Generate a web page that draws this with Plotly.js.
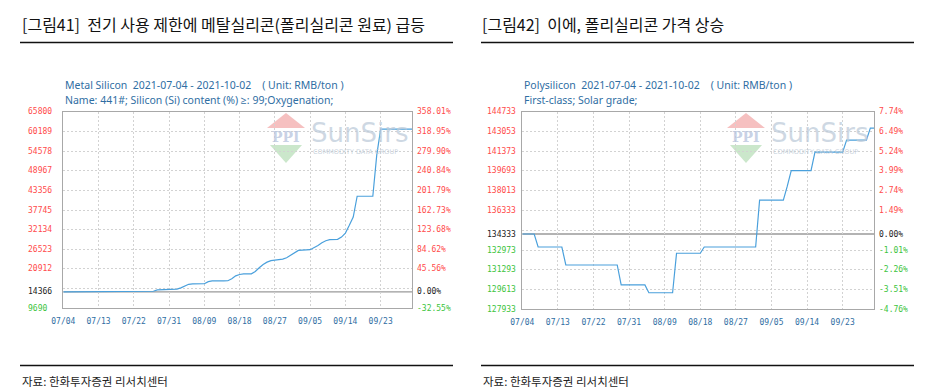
<!DOCTYPE html>
<html><head><meta charset="utf-8">
<script src="https://cdn.plot.ly/plotly-3.0.1.min.js"></script>
<style>html,body{margin:0;padding:0;background:#fff;} #chart{width:949px;height:390px;}</style>
</head><body><div id="chart"></div>
<script>
// ---------- Data: Metal Silicon (RMB/ton) ----------
const msDates = ['2021-07-04','2021-07-06','2021-07-07','2021-07-22','2021-07-23','2021-07-27','2021-07-28','2021-07-31',
  '2021-08-01','2021-08-02','2021-08-03','2021-08-04','2021-08-05','2021-08-06','2021-08-09','2021-08-10','2021-08-11',
  '2021-08-14','2021-08-15','2021-08-16','2021-08-17','2021-08-18','2021-08-19','2021-08-21','2021-08-22','2021-08-23',
  '2021-08-24','2021-08-25','2021-08-26','2021-08-27','2021-08-29','2021-08-30','2021-08-31','2021-09-01','2021-09-02',
  '2021-09-05','2021-09-06','2021-09-07','2021-09-08','2021-09-09','2021-09-10','2021-09-12','2021-09-13','2021-09-14',
  '2021-09-15','2021-09-16','2021-09-17','2021-09-21','2021-09-22','2021-09-23','2021-10-01'];
const msPrices = [14366,14366,14450,14450,14560,14560,14960,14960,
  15150,15150,15530,16100,16540,16680,16700,17300,17530,
  17530,17550,18100,18960,19340,19540,19540,20200,21250,
  22200,22860,23290,23430,23720,24120,24860,25640,26210,
  26410,26980,27640,28410,28980,29270,29370,30020,31160,
  33370,35740,41670,41670,53400,60800,60800];
const msBase = 14366;
const msLabelVals = [9690,14366,20912,26523,32134,37745,43356,48967,54578,60189,65800];
const msPctLabels = ['-32.55%','0.00%','45.56%','84.62%','123.68%','162.73%','201.79%','240.84%','279.90%','318.95%','358.01%'];
const msGridVals = [15301,20912,26523,32134,37745,43356,48967,54578,60189];
const msRange = [9690, 65800];

// ---------- Data: Polysilicon (RMB/ton) ----------
const psDates = ['2021-07-04','2021-07-07','2021-07-08','2021-07-14','2021-07-15','2021-07-28','2021-07-29','2021-08-04',
  '2021-08-05','2021-08-11','2021-08-12','2021-08-18','2021-08-19','2021-09-01','2021-09-02','2021-09-08','2021-09-09',
  '2021-09-10','2021-09-15','2021-09-16','2021-09-23','2021-09-24','2021-09-29','2021-09-30','2021-10-01'];
const psPrices = [134333,134333,133230,133230,131700,131700,130010,130010,
  129340,129340,132700,132700,133230,133230,137220,137220,138400,
  139720,139720,141290,141290,142320,142320,143340,143340];
const psBase = 134333;
const psLabelVals = [127933,129613,131293,132973,134333,136333,138013,139693,141373,143053,144733];
const psPctLabels = ['-4.76%','-3.51%','-2.26%','-1.01%','0.00%','1.49%','2.74%','3.99%','5.24%','6.49%','7.74%'];
const psGridVals = [129613,131293,132973,134653,136333,138013,139693,141373,143053];
const psRange = [127933, 144733];

// ---------- Shared x axis ticks ----------
const xTickVals = ['2021-07-04','2021-07-13','2021-07-22','2021-07-31','2021-08-09','2021-08-18','2021-08-27','2021-09-05','2021-09-14','2021-09-23'];
const xTickText = ['07/04','07/13','07/22','07/31','08/09','08/18','08/27','09/05','09/14','09/23'];
const xRange = ['2021-07-04','2021-10-01'];

// ---------- Layout helpers ----------
const W = 949, H = 390;
const px = v => v / W;
const py = v => 1 - v / H;
const LINE = '#4aa0dc';
const RED = '#ff4a4a', GREEN = '#3cc43c', BLACK = '#222';
const TICKFONT = 'DejaVu Sans Mono, monospace';
const KFONT = 'Noto Sans CJK KR, sans-serif';
const SUBFONT = 'Noto Sans, Open Sans, sans-serif';
const SUBCOLOR = '#2f6ea3';

function axisX(domain, anchor) {
  return {domain, anchor, type:'date', range:xRange, tickvals:xTickVals, ticktext:xTickText,
    showgrid:true, gridcolor:'#d2d2d2', griddash:'2px,2px', gridwidth:1,
    showline:true, mirror:true, linecolor:'#a8a8a8', linewidth:1, ticks:'', zeroline:false,
    ticklabelstandoff:5,
    tickfont:{family:TICKFONT, size:8, color:'#2f6ea3'}, fixedrange:true};
}
function axisY(domain, anchor, range, grid) {
  return {domain, anchor, range, tickvals:grid, showticklabels:false,
    showgrid:true, gridcolor:'#d2d2d2', griddash:'2px,2px', gridwidth:1,
    showline:true, mirror:true, linecolor:'#a8a8a8', linewidth:1, ticks:'', zeroline:false, fixedrange:true};
}
function colorFor(v, base) { return v > base ? RED : (v < base ? GREEN : BLACK); }

const annotations = [];
function valueLabels(vals, pcts, base, yref, xl, xr) {
  vals.forEach((v, i) => {
    annotations.push({xref:'paper', yref, x:px(xl), y:v, text:String(v), showarrow:false,
      xanchor:'left', yanchor:'middle', font:{family:TICKFONT, size:8, color:colorFor(v, base)}});
    annotations.push({xref:'paper', yref, x:px(xr), y:v, text:pcts[i], showarrow:false,
      xanchor:'left', yanchor:'middle', font:{family:TICKFONT, size:8, color:colorFor(v, base)}});
  });
}
valueLabels(msLabelVals, msPctLabels, msBase, 'y', 26, 414.5);
valueLabels(psLabelVals, psPctLabels, psBase, 'y2', 485.5, 877);

function text(x, y, t, size, color, family, anchor) {
  annotations.push({xref:'paper', yref:'paper', x:px(x), y:py(y), text:t, showarrow:false,
    xanchor:anchor || 'left', yanchor:'middle', font:{family, size, color}});
}
// Panel titles
text(20, 24, '[그림41]\u00a0\u00a0전기 사용 제한에 메탈실리콘(폴리실리콘 원료) 급등', 16, '#111', KFONT);
text(480, 24, '[그림42]\u00a0\u00a0이에, 폴리실리콘 가격 상승', 16, '#111', KFONT);
// Chart subtitles
text(63, 85, 'Metal Silicon  2021-07-04 - 2021-10-02\u00a0\u00a0\u00a0\u00a0( Unit: RMB/ton )', 10.5, SUBCOLOR, SUBFONT);
text(63, 100, 'Name: 441#; Silicon (Si) content (%) ≥: 99;Oxygenation;', 10.5, SUBCOLOR, SUBFONT);
text(522, 85, 'Polysilicon  2021-07-04 - 2021-10-02\u00a0\u00a0\u00a0\u00a0( Unit: RMB/ton )', 10.5, SUBCOLOR, SUBFONT);
text(522, 100, 'First-class; Solar grade;', 10.5, SUBCOLOR, SUBFONT);
// Sources
text(20, 381, '자료: 한화투자증권 리서치센터', 11.5, '#222', KFONT);
text(481, 381, '자료: 한화투자증권 리서치센터', 11.5, '#222', KFONT);

const shapes = [];
function hline(x0, x1, y, w) {
  shapes.push({type:'line', xref:'paper', yref:'paper', x0:px(x0), x1:px(x1), y0:py(y), y1:py(y), line:{color:'#111', width:w}});
}
hline(20, 453, 42.5, 1.5); hline(481, 914, 42.5, 1.5);
hline(20, 453, 365.5, 1.5); hline(481, 914, 365.5, 1.5);

// base lines
shapes.push({type:'line', xref:'x domain', yref:'y', x0:0, x1:1, y0:msBase, y1:msBase, line:{color:'#9a9a9a', width:1.3}, layer:'below'});
shapes.push({type:'line', xref:'x2 domain', yref:'y2', x0:0, x1:1, y0:psBase, y1:psBase, line:{color:'#9a9a9a', width:1.3}, layer:'below'});

// watermark logos
function logo(lx) {
  const tri = (pts, color) => shapes.push({type:'path', xref:'paper', yref:'paper', layer:'below',
    path: 'M' + pts.map(p => px(p[0]) + ',' + py(p[1])).join('L') + 'Z', fillcolor:color, line:{width:0}});
  tri([[lx, 128], [lx + 38, 128], [lx + 19, 113]], '#f6c0c0');
  tri([[lx + 3, 145], [lx + 35, 145], [lx + 19, 163]], '#cbe7cb');
  text(lx + 19, 137, '<b>PPI</b>', 14, 'rgba(186,198,222,0.8)', 'DejaVu Serif, serif', 'center');
  text(lx + 42, 133, 'SunSirs', 26, 'rgba(190,204,218,0.75)', 'DejaVu Sans, sans-serif');
  text(lx + 44, 152, 'COMMODITY DATA GROUP', 6.5, 'rgba(190,202,214,0.85)', 'DejaVu Sans, sans-serif');
}
logo(267); logo(727);

const traces = [
  {type:'scatter', mode:'lines', x:msDates, y:msPrices, xaxis:'x', yaxis:'y', line:{color:LINE, width:1.2}, hoverinfo:'skip'},
  {type:'scatter', mode:'lines', x:psDates, y:psPrices, xaxis:'x2', yaxis:'y2', line:{color:LINE, width:1.2}, hoverinfo:'skip'}
];

const layout = {
  width:W, height:H, margin:{l:0, r:0, t:0, b:0}, showlegend:false,
  paper_bgcolor:'#fff', plot_bgcolor:'#fff',
  xaxis: axisX([px(63.3), px(412)], 'y'),
  yaxis: axisY([py(308.3), py(111.7)], 'x', msRange, msGridVals),
  xaxis2: axisX([px(522.3), px(874.3)], 'y2'),
  yaxis2: axisY([py(309.3), py(111.7)], 'x2', psRange, psGridVals),
  annotations, shapes
};
Plotly.newPlot('chart', traces, layout, {staticPlot:true, displayModeBar:false});
</script></body></html>
